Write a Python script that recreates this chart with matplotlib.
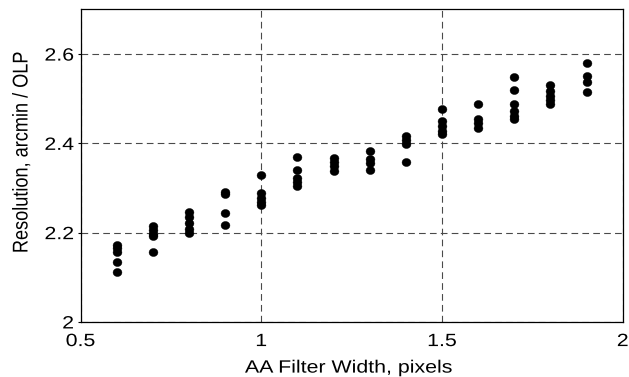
import matplotlib
matplotlib.use("Agg")
import numpy as np
import matplotlib.pyplot as plt
from matplotlib.patheffects import AbstractPathEffect
from matplotlib.transforms import Affine2D
from matplotlib.path import Path

plt.rcParams['font.family'] = ['Liberation Sans', 'DejaVu Sans']

filter_width = [0.6, 0.7, 0.8, 0.9, 1.0, 1.1, 1.2, 1.3, 1.4, 1.5, 1.6, 1.7, 1.8, 1.9]
resolution = [
    [2.172, 2.165, 2.157, 2.135, 2.112],
    [2.215, 2.207, 2.198, 2.192, 2.156],
    [2.246, 2.234, 2.221, 2.209, 2.199],
    [2.290, 2.286, 2.245, 2.218],
    [2.330, 2.288, 2.278, 2.269, 2.263],
    [2.369, 2.340, 2.322, 2.314, 2.304],
    [2.368, 2.359, 2.350, 2.339],
    [2.384, 2.366, 2.356, 2.340],
    [2.416, 2.407, 2.398, 2.358],
    [2.477, 2.450, 2.438, 2.427, 2.422],
    [2.488, 2.455, 2.445, 2.435],
    [2.549, 2.520, 2.489, 2.472, 2.462, 2.455],
    [2.530, 2.518, 2.507, 2.498, 2.489],
    [2.581, 2.550, 2.537, 2.514],
]
x_ticks = [0.5, 1, 1.5, 2]
x_tick_labels = ["0.5", "1", "1.5", "2"]
y_ticks = [2.0, 2.2, 2.4, 2.6]
y_tick_labels = ["2", "2.2", "2.4", "2.6"]


class Stretch(AbstractPathEffect):
    """Stretch text glyphs in their own frame (reference looks horizontally stretched)."""
    def __init__(self, sx=1.0, sy=1.0, anchor='center'):
        super().__init__()
        self.sx, self.sy, self.anchor = sx, sy, anchor

    def draw_path(self, renderer, gc, tpath, affine, rgbFace=None):
        ext = tpath.get_extents()
        if self.anchor == 'right':
            cx = ext.x1
        elif self.anchor == 'left':
            cx = ext.x0
        else:
            cx = 0.5 * (ext.x0 + ext.x1)
        t = Affine2D().translate(-cx, 0).scale(self.sx, self.sy).translate(cx, 0) + affine
        renderer.draw_path(gc, tpath, t, rgbFace)


FS = 12.8
SX = 1.2

fig = plt.figure(figsize=(6.29, 3.77), dpi=100)
ax = fig.add_axes([0.128, 0.146, 0.862, 0.829])

xs, ys = [], []
for w, vals in zip(filter_width, resolution):
    for v in vals:
        xs.append(w)
        ys.append(v)

circ = Path.unit_circle()
ell = Path(circ.vertices * np.array([1.1, 1.0]), circ.codes)
ax.plot(xs, ys, linestyle='none', marker=ell, markersize=6.4,
        color='black', markeredgewidth=0.3, zorder=3)

ax.set_xlim(0.5, 2)
ax.set_ylim(2.0, 2.7)
ax.set_xticks(x_ticks)
ax.set_xticklabels(x_tick_labels)
ax.set_yticks(y_ticks)
ax.set_yticklabels(y_tick_labels)
ax.tick_params(axis='x', length=0, labelsize=FS, pad=8)
ax.tick_params(axis='y', direction='out', length=2.5, width=0.8, labelsize=FS, pad=2.3)
ax.grid(True, color='#4a4a4a', linestyle=(0, (6, 3.8)), linewidth=0.8)
for s in ax.spines.values():
    s.set_linewidth(0.9)

for t in ax.xaxis.get_major_ticks():
    t.label1.set_path_effects([Stretch(SX, 1.0, 'center')])
for t in ax.yaxis.get_major_ticks():
    t.label1.set_path_effects([Stretch(SX, 1.0, 'right')])

xl = ax.set_xlabel("AA Filter Width, pixels", fontsize=FS, va='baseline')
ax.xaxis.set_label_coords(0.494, -0.162)
xl.set_path_effects([Stretch(SX, 1.0, 'center')])

yl = ax.set_ylabel("Resolution, arcmin / OLP", fontsize=FS, va='baseline')
ax.yaxis.set_label_coords(-0.0978, 0.542)
yl.set_path_effects([Stretch(1.02, SX, 'center')])

fig.savefig("out.png", dpi=100)
